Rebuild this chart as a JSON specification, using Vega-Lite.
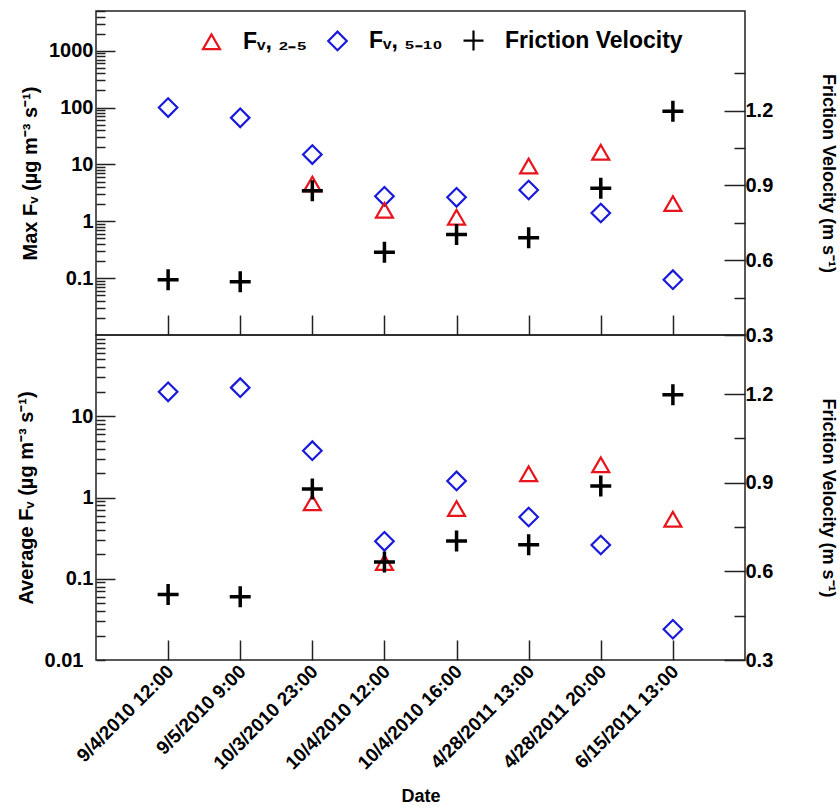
{
  "$schema": "https://vega.github.io/schema/vega-lite/v6.json",
  "background": "white",
  "padding": {"left": 15, "top": 0, "right": 2, "bottom": 2},
  "spacing": 0,
  "bounds": "flush",
  "config": {
    "view": {"stroke": "#222", "strokeWidth": 1.5},
    "axis": {
      "labelFont": "Liberation Sans", "labelFontWeight": "bold", "labelFontSize": 20, "labelColor": "black",
      "titleFont": "Liberation Sans", "titleFontWeight": "bold", "titleFontSize": 20, "titleColor": "black",
      "tickColor": "#222", "tickWidth": 1.5, "domain": false, "grid": false, "labelFlush": false, "labelOverlap": false
    },
    "legend": {
      "orient": "none", "legendX": 104, "legendY": 18, "direction": "horizontal",
      "labelFont": "Liberation Sans", "labelFontWeight": "bold", "labelFontSize": 23, "labelColor": "black", "labelLimit": 400,
      "symbolStrokeWidth": 2.2, "symbolSize": 360, "columnPadding": 16, "labelOffset": 20
    }
  },
  "datasets": {
    "d": [
      {"date": "9/4/2010 12:00", "series": "Fᵥ, ₅₋₁₀", "max": 100, "avg": 20},
      {"date": "9/5/2010 9:00", "series": "Fᵥ, ₅₋₁₀", "max": 66, "avg": 22.5},
      {"date": "10/3/2010 23:00", "series": "Fᵥ, ₅₋₁₀", "max": 14.9, "avg": 3.77},
      {"date": "10/4/2010 12:00", "series": "Fᵥ, ₅₋₁₀", "max": 2.75, "avg": 0.289},
      {"date": "10/4/2010 16:00", "series": "Fᵥ, ₅₋₁₀", "max": 2.64, "avg": 1.6},
      {"date": "4/28/2011 13:00", "series": "Fᵥ, ₅₋₁₀", "max": 3.55, "avg": 0.575},
      {"date": "4/28/2011 20:00", "series": "Fᵥ, ₅₋₁₀", "max": 1.4, "avg": 0.26},
      {"date": "6/15/2011 13:00", "series": "Fᵥ, ₅₋₁₀", "max": 0.094, "avg": 0.0239},
      {"date": "10/3/2010 23:00", "series": "Fᵥ, ₂₋₅", "max": 4.5, "avg": 0.86},
      {"date": "10/4/2010 12:00", "series": "Fᵥ, ₂₋₅", "max": 1.56, "avg": 0.158},
      {"date": "10/4/2010 16:00", "series": "Fᵥ, ₂₋₅", "max": 1.18, "avg": 0.73},
      {"date": "4/28/2011 13:00", "series": "Fᵥ, ₂₋₅", "max": 9.4, "avg": 1.96},
      {"date": "4/28/2011 20:00", "series": "Fᵥ, ₂₋₅", "max": 16.4, "avg": 2.53},
      {"date": "6/15/2011 13:00", "series": "Fᵥ, ₂₋₅", "max": 2.05, "avg": 0.54},
      {"date": "9/4/2010 12:00", "series": "Friction Velocity", "u": 0.522},
      {"date": "9/5/2010 9:00", "series": "Friction Velocity", "u": 0.514},
      {"date": "10/3/2010 23:00", "series": "Friction Velocity", "u": 0.879},
      {"date": "10/4/2010 12:00", "series": "Friction Velocity", "u": 0.632},
      {"date": "10/4/2010 16:00", "series": "Friction Velocity", "u": 0.703},
      {"date": "4/28/2011 13:00", "series": "Friction Velocity", "u": 0.69},
      {"date": "4/28/2011 20:00", "series": "Friction Velocity", "u": 0.889},
      {"date": "6/15/2011 13:00", "series": "Friction Velocity", "u": 1.198}
    ]
  },
  "vconcat": [
    {
      "width": 649, "height": 324,
      "data": {"name": "d"},
      "layer": [
        {
          "transform": [{"filter": "datum.series !== 'Friction Velocity'"}],
          "mark": {"type": "point", "filled": false, "opacity": 1},
          "encoding": {
            "x": {"field": "date", "type": "ordinal",
              "scale": {"type": "point", "padding": 1, "domain": ["9/4/2010 12:00","9/5/2010 9:00","10/3/2010 23:00","10/4/2010 12:00","10/4/2010 16:00","4/28/2011 13:00","4/28/2011 20:00","6/15/2011 13:00"]},
              "axis": {"labels": false, "title": null, "tickSize": -20, "orient": "bottom"}},
            "y": {"field": "max", "type": "quantitative",
              "scale": {"type": "log", "domain": [0.01, 5000], "nice": false},
              "axis": {"orient": "left", "title": "Max Fᵥ (µg m⁻³ s⁻¹)", "titlePadding": 8, "format": "~g",
                "values": [0.02,0.03,0.04,0.05,0.06,0.07,0.08,0.09,0.1,0.2,0.3,0.4,0.5,0.6,0.7,0.8,0.9,1,2,3,4,5,6,7,8,9,10,20,30,40,50,60,70,80,90,100,200,300,400,500,600,700,800,900,1000,2000,3000,4000,5000],
                "labelExpr": "indexof([0.1,1,10,100,1000], datum.value) >= 0 ? datum.label : ''",
                "tickSize": {"condition": {"test": "indexof([0.1,1,10,100,1000], datum.value) >= 0", "value": -19}, "value": -9},
                "labelPadding": 22}},
            "color": {"field": "series", "type": "nominal",
              "scale": {"domain": ["Fᵥ, ₂₋₅", "Fᵥ, ₅₋₁₀", "Friction Velocity"], "range": ["#e8141b", "#1a1adb", "#000000"]},
              "legend": {"title": null,
                "encode": {"symbols": {"update": {
                  "size": {"signal": "datum.value === 'Friction Velocity' ? 440 : datum.value === 'Fᵥ, ₂₋₅' ? 289 : 400"},
                  "strokeWidth": {"signal": "datum.value === 'Friction Velocity' ? 3.5 : 2.2"}}}}}},
            "shape": {"field": "series", "type": "nominal",
              "scale": {"domain": ["Fᵥ, ₂₋₅", "Fᵥ, ₅₋₁₀", "Friction Velocity"], "range": ["triangle-up", "diamond", "M-1,0L1,0M0,-1L0,1"]},
              "legend": {"title": null}},
            "size": {"field": "series", "type": "nominal",
              "scale": {"domain": ["Fᵥ, ₂₋₅", "Fᵥ, ₅₋₁₀", "Friction Velocity"], "range": [289, 400, 440]},
              "legend": null},
            "strokeWidth": {"value": 2.2}
          }
        },
        {
          "transform": [{"filter": "datum.series === 'Friction Velocity'"}],
          "mark": {"type": "point", "filled": false, "opacity": 1, "size": 440, "strokeWidth": 3.5},
          "encoding": {
            "x": {"field": "date", "type": "ordinal"},
            "y": {"field": "u", "type": "quantitative",
              "scale": {"domain": [0.3, 1.6], "nice": false, "zero": false},
              "axis": {"orient": "right", "title": "Friction Velocity (m s⁻¹)", "titleFontSize": 18, "titlePadding": 46, "format": ".1f",
                "values": [0.3,0.45,0.6,0.75,0.9,1.05,1.2,1.35],
                "labelExpr": "indexof([0.3,0.6,0.9,1.2], datum.value) >= 0 ? datum.label : ''",
                "tickSize": {"condition": {"test": "indexof([0.3,0.6,0.9,1.2], datum.value) >= 0", "value": -21}, "value": -11},
                "labelPadding": 21}},
            "color": {"field": "series", "type": "nominal"},
            "shape": {"field": "series", "type": "nominal"}
          }
        }
      ],
      "resolve": {"scale": {"y": "independent"}}
    },
    {
      "width": 649, "height": 325,
      "data": {"name": "d"},
      "layer": [
        {
          "transform": [{"filter": "datum.series !== 'Friction Velocity'"}],
          "mark": {"type": "point", "filled": false, "opacity": 1},
          "encoding": {
            "x": {"field": "date", "type": "ordinal",
              "scale": {"type": "point", "padding": 1, "domain": ["9/4/2010 12:00","9/5/2010 9:00","10/3/2010 23:00","10/4/2010 12:00","10/4/2010 16:00","4/28/2011 13:00","4/28/2011 20:00","6/15/2011 13:00"]},
              "axis": {"title": "Date", "titleFontSize": 18, "tickSize": -20, "orient": "bottom", "labelAngle": -45, "labelAlign": "right", "labelBaseline": "middle", "labelPadding": 28, "labelOffset": 2, "labelFontSize": 19, "titlePadding": 15}},
            "y": {"field": "avg", "type": "quantitative",
              "scale": {"type": "log", "domain": [0.01, 100], "nice": false},
              "axis": {"orient": "left", "title": "Average Fᵥ (µg m⁻³ s⁻¹)", "titlePadding": 8, "format": "~g",
                "values": [0.01,0.02,0.03,0.04,0.05,0.06,0.07,0.08,0.09,0.1,0.2,0.3,0.4,0.5,0.6,0.7,0.8,0.9,1,2,3,4,5,6,7,8,9,10,20,30,40,50,60,70,80,90],
                "labelExpr": "indexof([0.01,0.1,1,10], datum.value) >= 0 ? datum.label : ''",
                "tickSize": {"condition": {"test": "indexof([0.1,1,10], datum.value) >= 0", "value": -19}, "value": -9},
                "labelPadding": 22}},
            "color": {"field": "series", "type": "nominal"},
            "shape": {"field": "series", "type": "nominal"},
            "size": {"field": "series", "type": "nominal", "legend": null},
            "strokeWidth": {"value": 2.2}
          }
        },
        {
          "transform": [{"filter": "datum.series === 'Friction Velocity'"}],
          "mark": {"type": "point", "filled": false, "opacity": 1, "size": 440, "strokeWidth": 3.5},
          "encoding": {
            "x": {"field": "date", "type": "ordinal"},
            "y": {"field": "u", "type": "quantitative",
              "scale": {"domain": [0.3, 1.4], "nice": false, "zero": false},
              "axis": {"orient": "right", "title": "Friction Velocity (m s⁻¹)", "titleFontSize": 18, "titlePadding": 46, "format": ".1f",
                "values": [0.3,0.45,0.6,0.75,0.9,1.05,1.2],
                "labelExpr": "indexof([0.3,0.6,0.9,1.2], datum.value) >= 0 ? datum.label : ''",
                "tickSize": {"condition": {"test": "indexof([0.3,0.6,0.9,1.2], datum.value) >= 0", "value": -21}, "value": -11},
                "labelPadding": 21}},
            "color": {"field": "series", "type": "nominal"},
            "shape": {"field": "series", "type": "nominal"}
          }
        }
      ],
      "resolve": {"scale": {"y": "independent"}}
    }
  ]
}
